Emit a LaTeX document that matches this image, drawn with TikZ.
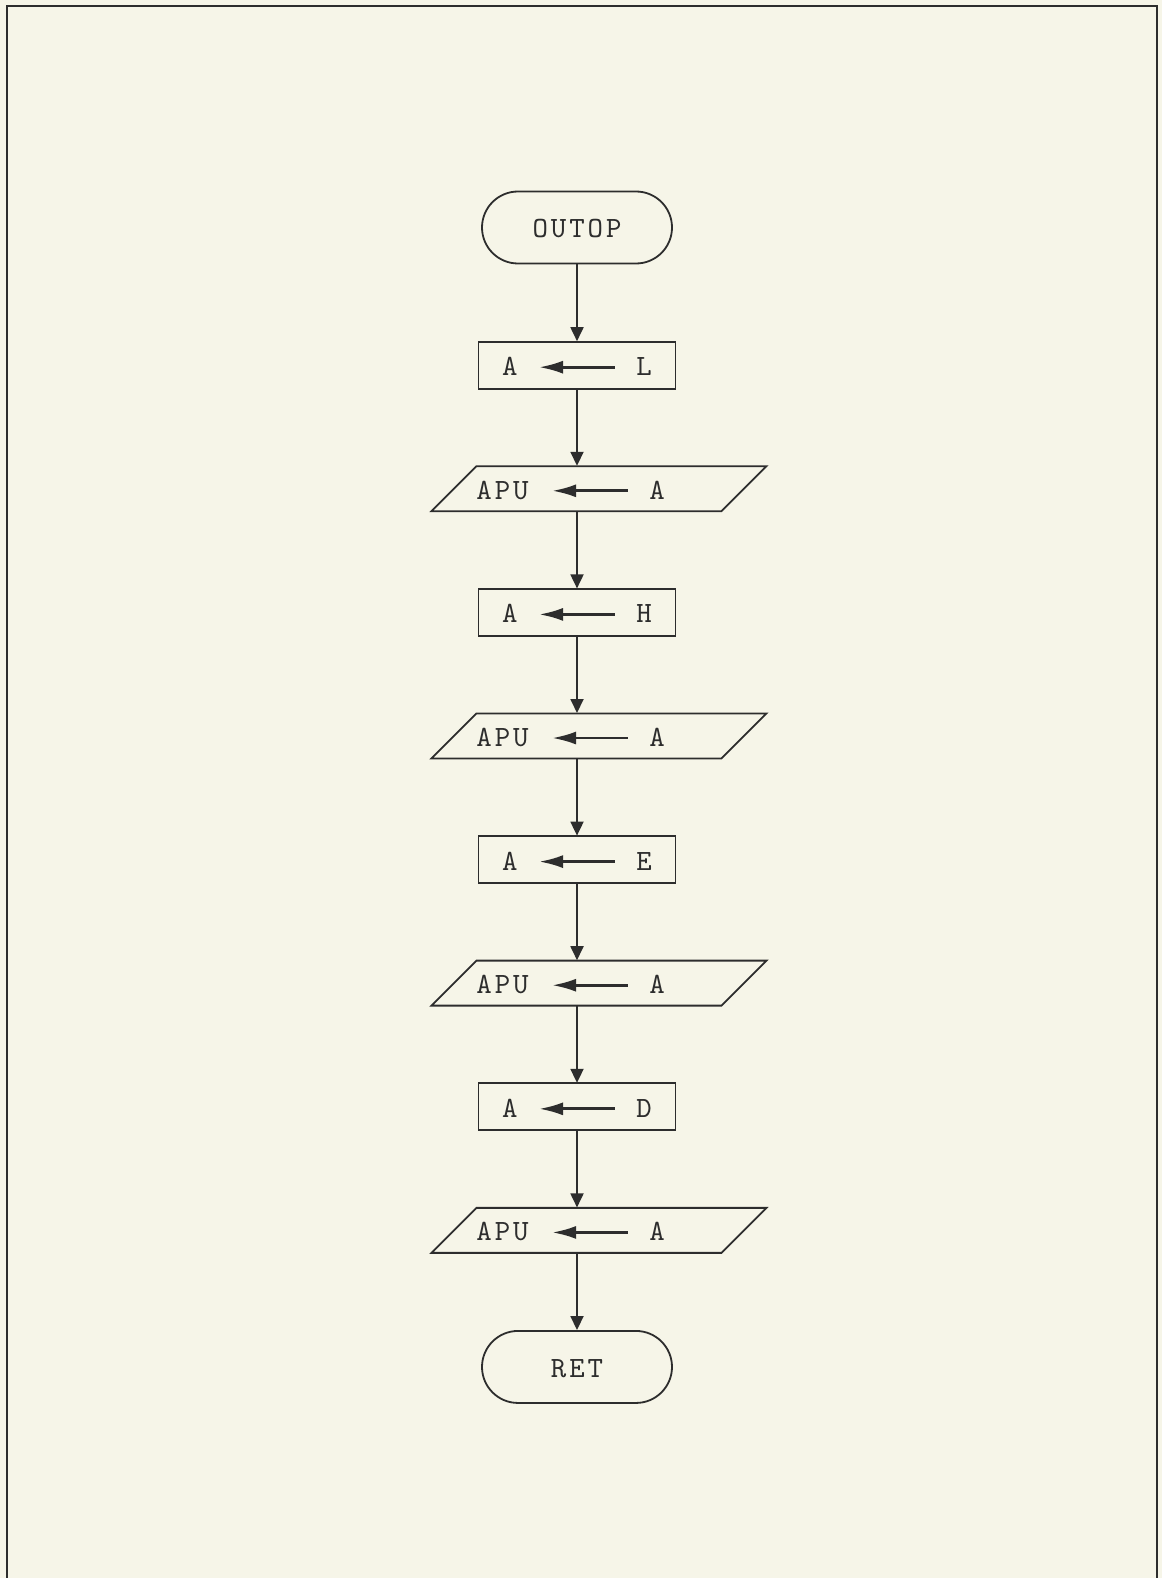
\documentclass[tikz,border=0pt]{standalone}
\usepackage{fontspec}
\setmonofont{lmmono10-regular.otf}[LetterSpace=10]
\usetikzlibrary{arrows.meta}
\usetikzlibrary{shapes.geometric}
\usetikzlibrary{positioning}

\definecolor{paper}{RGB}{246,245,232}
\definecolor{ink}{RGB}{45,45,45}

\newcommand{\movearrow}{\tikz[baseline=-4.2pt]\draw[ink,line width=1.4pt,{Latex[length=12pt,width=6.5pt]}-] (0,0) -- (38pt,0);}

\begin{document}
\begin{tikzpicture}[->,>={Triangle[length=7pt,width=6.5pt]},ink,line width=0.9pt,
  node distance=38.4pt,font=\ttfamily\fontsize{14.7pt}{17pt}\selectfont,
  text height=11pt,text depth=0.5pt]

  \tikzstyle{term}=[rectangle,draw,rounded corners=18pt,minimum width=95pt,minimum height=36pt];
  \tikzstyle{box}=[rectangle,draw,minimum width=98.5pt,minimum height=23.5pt];
  \tikzstyle{io}=[trapezium,draw,trapezium left angle=45,trapezium right angle=135,
    text width=122.5pt,align=left,inner xsep=0pt,inner ysep=5.5pt,xshift=11pt];

  \useasboundingbox (0,0) rectangle (581pt,-789pt);
  \fill[-,paper] (0,0) rectangle (581pt,-789pt);
  \draw[-,line width=1pt] (3.5pt,-789pt) -- (3.5pt,-3pt) -- (578.5pt,-3pt) -- (578.5pt,-789pt);

  \node[term] (outop) at (288.5pt,-113.75pt) {OUTOP};
  \node[box]  (aL)   [below=of outop] {A\hspace{10pt}\movearrow\hspace{10pt}L};
  \node[io]   (apuL) [below=of aL] {APU\hspace{11pt}\movearrow\hspace{10pt}A};
  \node[box]  (aH)   [below=of apuL,xshift=-11pt] {A\hspace{10pt}\movearrow\hspace{10pt}H};
  \node[io]   (apuH) [below=of aH] {APU\hspace{11pt}\movearrow\hspace{10pt}A};
  \node[box]  (aE)   [below=of apuH,xshift=-11pt] {A\hspace{10pt}\movearrow\hspace{10pt}E};
  \node[io]   (apuE) [below=of aE] {APU\hspace{11pt}\movearrow\hspace{10pt}A};
  \node[box]  (aD)   [below=of apuE,xshift=-11pt] {A\hspace{10pt}\movearrow\hspace{10pt}D};
  \node[io]   (apuD) [below=of aD] {APU\hspace{11pt}\movearrow\hspace{10pt}A};
  \node[term] (ret)  [below=of apuD,xshift=-11pt] {RET};

  \path
    (outop) edge (aL)
    (aL)    edge (aL |- apuL.north)
    (apuL.south -| aH) edge (aH)
    (aH)    edge (aH |- apuH.north)
    (apuH.south -| aE) edge (aE)
    (aE)    edge (aE |- apuE.north)
    (apuE.south -| aD) edge (aD)
    (aD)    edge (aD |- apuD.north)
    (apuD.south -| ret) edge (ret)
  ;

\end{tikzpicture}
\end{document}
